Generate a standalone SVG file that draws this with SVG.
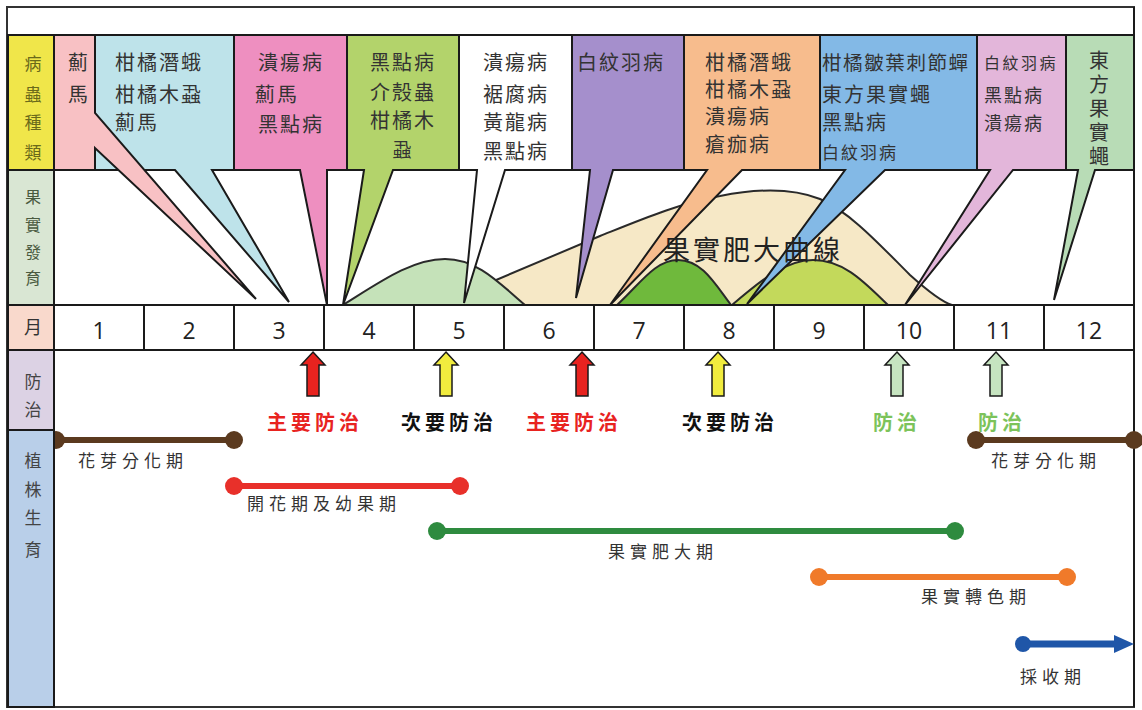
<svg xmlns="http://www.w3.org/2000/svg" width="1142" height="710" viewBox="0 0 1142 710">
<style>
.cell{stroke:#1a1a1a;stroke-width:2;stroke-linejoin:miter}
.t{font-family:"Noto Sans CJK TC","Noto Sans CJK SC",sans-serif;font-size:20px;fill:#333;letter-spacing:2px}
.side{font-family:"Noto Sans CJK TC",sans-serif;font-size:17px;text-anchor:middle}
.num{font-family:"Open Sans","Liberation Sans",sans-serif;font-size:23px;fill:#222;text-anchor:middle}
.ctl{font-family:"Noto Sans CJK TC",sans-serif;font-size:20px;font-weight:bold;letter-spacing:4px;text-anchor:middle}
.bl{font-family:"Noto Sans CJK TC",sans-serif;font-size:17px;fill:#333;letter-spacing:5px}
.arr{stroke:#1a1a1a;stroke-width:1.5}
.hill{stroke:#2a2a2a;stroke-width:2}
</style>
<rect x="0" y="0" width="1142" height="710" fill="#ffffff"/>
<rect x="7" y="7" width="1127" height="700" fill="#ffffff" stroke="#333" stroke-width="2"/>

<!-- fruit development curves -->
<g id="curves">
<path class="hill" d="M437,305 L600,236 C640,220 680,203 720,196 C755,189 790,187 820,199 C850,212 880,245 910,275 C930,293 942,302 952,305 Z" fill="#f6e8c6"/>
<path class="hill" d="M343,305 C380,282 412,259 445,259 C478,259 500,284 525,305 Z" fill="#c5e2b9"/>
<path class="hill" d="M617,305 C640,284 655,260 678,260 C702,260 715,284 731,305 Z" fill="#6fb93c"/>
<path class="hill" d="M732,305 C760,281 785,260 813,260 C845,260 866,284 888,305 Z" fill="#c3d95b"/>
</g>

<!-- header callouts -->
<g id="h-blue1">
<path class="cell" d="M95,35 H234 V170 H212 L289,302 L175,170 H95 Z" fill="#bee3ea"/>
<text class="t" x="115" y="70">柑橘潛蛾</text>
<text class="t" x="115" y="102">柑橘木蝨</text>
<text class="t" x="115" y="130">薊馬</text>
</g>
<g id="h-pink1">
<path class="cell" d="M54,35 H95 V113 L256,299 L95,148 V170 H54 Z" fill="#f8c1c4"/>
<text class="t" x="78" y="70" style="text-anchor:middle;letter-spacing:0">薊</text>
<text class="t" x="78" y="102" style="text-anchor:middle;letter-spacing:0">馬</text>
</g>
<g id="h-magenta">
<path class="cell" d="M234,35 H347 V170 H327 V305 L300,170 H234 Z" fill="#ee8fc0"/>
<text class="t" x="258" y="70">潰瘍病</text>
<text class="t" x="255" y="102">薊馬</text>
<text class="t" x="258" y="132">黑點病</text>
</g>
<g id="h-green">
<path class="cell" d="M347,35 H459 V170 H393 L343,305 L364,170 H347 Z" fill="#b3d36b"/>
<text class="t" x="370" y="70">黑點病</text>
<text class="t" x="370" y="100">介殼蟲</text>
<text class="t" x="370" y="128">柑橘木</text>
<text class="t" x="402" y="157" style="text-anchor:middle;letter-spacing:0;font-size:19px">蝨</text>
</g>
<g id="h-white">
<path class="cell" d="M459,35 H572 V170 H505 L464,303 L477,170 H459 Z" fill="#ffffff"/>
<text class="t" x="483" y="70">潰瘍病</text>
<text class="t" x="483" y="102">裾腐病</text>
<text class="t" x="483" y="130">黃龍病</text>
<text class="t" x="483" y="159">黑點病</text>
</g>
<g id="h-purple">
<path class="cell" d="M572,35 H684 V170 H613 L576,298 L590,170 H572 Z" fill="#a58fcc"/>
<text class="t" x="577" y="70">白紋羽病</text>
</g>
<g id="h-orange">
<path class="cell" d="M684,35 H820 V170 H742 L610,305 L707,170 H684 Z" fill="#f7bc8d"/>
<text class="t" x="705" y="70">柑橘潛蛾</text>
<text class="t" x="705" y="97">柑橘木蝨</text>
<text class="t" x="705" y="124">潰瘍病</text>
<text class="t" x="705" y="152">瘡痂病</text>
</g>
<g id="h-blue2">
<path class="cell" d="M820,35 H977 V170 H885 L747,304 L845,170 H820 Z" fill="#83b9e6"/>
<text class="t" x="822" y="70" style="font-size:19.5px;letter-spacing:1.6px">柑橘皺葉刺節蟬</text>
<text class="t" x="822" y="102">東方果實蠅</text>
<text class="t" x="822" y="130">黑點病</text>
<text class="t" x="822" y="159" style="font-size:17px;letter-spacing:2px">白紋羽病</text>
</g>
<g id="h-lilac">
<path class="cell" d="M977,35 H1066 V170 H1013 L905,305 L990,170 H977 Z" fill="#e3b6da"/>
<text class="t" x="984" y="69" style="font-size:16px;letter-spacing:2.5px">白紋羽病</text>
<text class="t" x="984" y="102" style="font-size:18px;letter-spacing:2px">黑點病</text>
<text class="t" x="984" y="130" style="font-size:18px;letter-spacing:2px">潰瘍病</text>
</g>
<g id="h-green2">
<path class="cell" d="M1066,35 H1134 V170 H1095 L1054,300 L1078,170 H1066 Z" fill="#b8dcb6"/>
<text class="t" x="1099" y="50" style="writing-mode:vertical-rl;letter-spacing:4px">東方果實蠅</text>
</g>

<text id="curve-label" x="663" y="260" font-family="Noto Sans CJK TC, sans-serif" font-size="27" fill="#222" letter-spacing="3">果實肥大曲線</text>

<!-- month row -->
<g id="months">
<rect class="cell" x="54" y="305" width="1080" height="45" fill="#ffffff"/>
<path class="cell" d="M144,305V350M234,305V350M324,305V350M414,305V350M504,305V350M594,305V350M684,305V350M774,305V350M864,305V350M954,305V350M1044,305V350" fill="none"/>
<text class="num" x="99" y="339">1</text>
<text class="num" x="189" y="339">2</text>
<text class="num" x="279" y="339">3</text>
<text class="num" x="369" y="339">4</text>
<text class="num" x="459" y="339">5</text>
<text class="num" x="549" y="339">6</text>
<text class="num" x="639" y="339">7</text>
<text class="num" x="729" y="339">8</text>
<text class="num" x="819" y="339">9</text>
<text class="num" x="909" y="339">10</text>
<text class="num" x="999" y="339">11</text>
<text class="num" x="1089" y="339">12</text>
</g>
<line x1="1134" y1="7" x2="1134" y2="707" stroke="#1a1a1a" stroke-width="2"/>

<defs>
<path id="uparrow" d="M0,0 L12,13 L6,13 L6,44 L-6,44 L-6,13 L-12,13 Z"/>
</defs>

<g id="connectors">
<!-- control arrows -->
<use href="#uparrow" x="313" y="352" class="arr" fill="#e8231f"/>
<use href="#uparrow" x="446" y="352" class="arr" fill="#f1ec3e"/>
<use href="#uparrow" x="582" y="352" class="arr" fill="#e8231f"/>
<use href="#uparrow" x="718" y="352" class="arr" fill="#f1ec3e"/>
<use href="#uparrow" x="897" y="352" class="arr" fill="#c6e4c0"/>
<use href="#uparrow" x="996" y="352" class="arr" fill="#c6e4c0"/>
<!-- growth bars -->
<g stroke-width="6">
<line x1="56" y1="440" x2="234" y2="440" stroke="#5b3a1f"/>
<line x1="234" y1="486" x2="460" y2="486" stroke="#e8302a"/>
<line x1="437" y1="531" x2="955" y2="531" stroke="#2e8b3f"/>
<line x1="819" y1="577" x2="1067" y2="577" stroke="#f07a2a"/>
<line x1="976" y1="440" x2="1134" y2="440" stroke="#5b3a1f"/>
<line x1="1023" y1="644" x2="1118" y2="644" stroke="#1f56a8" stroke-width="7"/>
</g>
<circle cx="56" cy="440" r="9" fill="#5b3a1f"/>
<circle cx="234" cy="440" r="9" fill="#5b3a1f"/>
<circle cx="234" cy="486" r="9" fill="#e8302a"/>
<circle cx="460" cy="486" r="9" fill="#e8302a"/>
<circle cx="437" cy="531" r="9" fill="#2e8b3f"/>
<circle cx="955" cy="531" r="9" fill="#2e8b3f"/>
<circle cx="819" cy="577" r="9" fill="#f07a2a"/>
<circle cx="1067" cy="577" r="9" fill="#f07a2a"/>
<circle cx="976" cy="440" r="9" fill="#5b3a1f"/>
<circle cx="1134" cy="440" r="9" fill="#5b3a1f"/>
<circle cx="1023" cy="644" r="8" fill="#1f56a8"/>
<path d="M1114,635 L1134,644 L1114,653 Z" fill="#1f56a8"/>
</g>

<g id="control-labels">
<text class="ctl" x="315" y="430" fill="#e8231f">主要防治</text>
<text class="ctl" x="449" y="430" fill="#111">次要防治</text>
<text class="ctl" x="574" y="430" fill="#e8231f">主要防治</text>
<text class="ctl" x="730" y="430" fill="#111">次要防治</text>
<text class="ctl" x="897" y="430" fill="#7cc35a">防治</text>
<text class="ctl" x="1002" y="430" fill="#7cc35a">防治</text>
</g>

<g id="bar-labels">
<text class="bl" x="78" y="467">花芽分化期</text>
<text class="bl" x="247" y="510">開花期及幼果期</text>
<text class="bl" x="608" y="558">果實肥大期</text>
<text class="bl" x="921" y="603">果實轉色期</text>
<text class="bl" x="991" y="467">花芽分化期</text>
<text class="bl" x="1020" y="683" fill="#2f5fae">採收期</text>
</g>

<!-- left column -->
<g id="side-pest">
<rect class="cell" x="8" y="35" width="46" height="135" fill="#f0e64a"/>
<g class="side" fill="#6b6a1a">
<text x="33" y="70">病</text><text x="33" y="101">蟲</text><text x="33" y="129">種</text><text x="33" y="159">類</text>
</g>
</g>
<g id="side-fruit">
<rect class="cell" x="8" y="170" width="46" height="135" fill="#d9e6d3"/>
<g class="side" fill="#4a5a40" style="font-size:16px">
<text x="33" y="203">果</text><text x="33" y="231">實</text><text x="33" y="258">發</text><text x="33" y="284">育</text>
</g>
</g>
<g id="side-month">
<rect class="cell" x="8" y="305" width="46" height="45" fill="#f9d9cc"/>
<text class="side" x="33" y="334" fill="#333" style="font-size:18px">月</text>
</g>
<g id="side-control">
<rect class="cell" x="8" y="350" width="46" height="80" fill="#dcd2e4"/>
<g class="side" fill="#444">
<text x="33" y="388">防</text><text x="33" y="416">治</text>
</g>
</g>
<g id="side-growth">
<rect class="cell" x="8" y="430" width="46" height="277" fill="#b9cfe9"/>
<g class="side" fill="#444">
<text x="33" y="467">植</text><text x="33" y="496">株</text><text x="33" y="524">生</text><text x="33" y="556">育</text>
</g>
</g>
</svg>
